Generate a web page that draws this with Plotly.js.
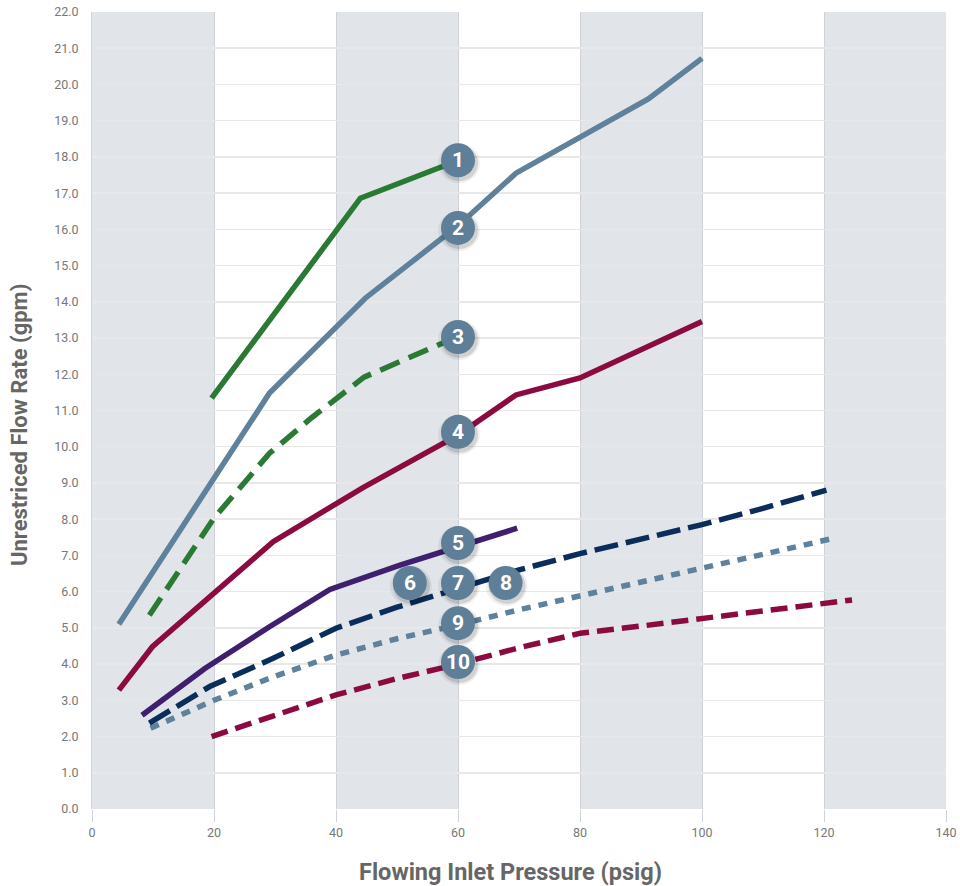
<!DOCTYPE html>
<html><head><meta charset="utf-8">
<script src="https://cdn.plot.ly/plotly-3.0.1.min.js"></script>
<style>html,body{margin:0;padding:0;background:#fff}#chart{width:960px;height:886px}</style>
</head><body><div id="chart"></div>
<script>
// Series data (x = psig, y = gpm)
const s1x = [19.6, 44.0, 60.0];
const s1y = [11.34, 16.86, 17.9];
const s2x = [4.4, 29.1, 44.8, 60.0, 69.5, 91.2, 100.0];
const s2y = [5.1, 11.48, 14.1, 16.1, 17.55, 19.6, 20.72];
const s3x = [9.4, 20.0, 29.1, 36.0, 44.6, 50.3, 58.0];
const s3y = [5.35, 8.03, 9.82, 10.8, 11.92, 12.35, 12.9];
const s4x = [4.4, 9.9, 29.7, 44.5, 60.0, 69.5, 80.0, 91.5, 100.0];
const s4y = [3.28, 4.48, 7.38, 8.88, 10.32, 11.43, 11.9, 12.8, 13.46];
const s5x = [8.2, 18.5, 29.1, 39.0, 50.5, 69.7];
const s5y = [2.59, 3.88, 5.03, 6.06, 6.73, 7.75];
const s6x = [9.4, 19.3, 29.7, 40.0, 50.0, 60.0, 70.0, 80.0, 90.0, 100.0, 110.0, 120.4];
const s6y = [2.37, 3.38, 4.16, 4.99, 5.57, 6.08, 6.6, 7.05, 7.45, 7.85, 8.3, 8.8];
const s7x = [9.6, 20.0, 29.1, 40.0, 50.0, 60.0, 70.0, 80.0, 90.0, 100.0, 110.0, 121.5];
const s7y = [2.23, 3.0, 3.61, 4.25, 4.7, 5.08, 5.5, 5.88, 6.28, 6.66, 7.05, 7.47];
const s8x = [19.6, 29.7, 40.0, 50.0, 60.0, 70.0, 80.0, 90.0, 100.0, 110.0, 120.0, 124.6];
const s8y = [2.0, 2.55, 3.15, 3.6, 4.0, 4.45, 4.85, 5.05, 5.25, 5.45, 5.68, 5.77];

// Badges
const badgeLabels = ['1','2','3','4','5','6','7','8','9','10'];
const badgeX = [60, 60, 60, 60, 60, 52.1, 60, 67.8, 60, 60];
const badgeY = [17.91, 16.04, 13.03, 10.41, 7.34, 6.24, 6.24, 6.24, 5.13, 4.06];

// Axes
const xTicks = [0, 20, 40, 60, 80, 100, 120, 140];
const yTicks = [0,1,2,3,4,5,6,7,8,9,10,11,12,13,14,15,16,17,18,19,20,21,22];
const bandStarts = [0, 40, 80, 120];
const xTitle = 'Flowing Inlet Pressure (psig)';
const yTitle = 'Unrestriced Flow Rate (gpm)';

const GREEN = '#2a7a35', STEEL = '#5f819b', CRIMSON = '#8b0b40', PURPLE = '#3f1f6e', NAVY = '#0b2d5b';
const FONT = 'Roboto, DejaVu Sans, sans-serif';

function tr(x, y, color, dash) {
  return {x: x, y: y, type: 'scatter', mode: 'lines',
    line: {color: color, width: 5.5, dash: dash || 'solid', shape: 'linear'},
    hoverinfo: 'skip'};
}
const data = [
  tr(s8x, s8y, CRIMSON, '17px,8px'),
  tr(s7x, s7y, STEEL, '9px,8px'),
  tr(s6x, s6y, NAVY, '24px,8px'),
  tr(s5x, s5y, PURPLE),
  tr(s4x, s4y, CRIMSON),
  tr(s3x, s3y, GREEN, '21px,10px'),
  tr(s2x, s2y, STEEL),
  tr(s1x, s1y, GREEN)
];

const shapes = [];
bandStarts.forEach(b => shapes.push({type: 'rect', xref: 'x', yref: 'paper', x0: b, x1: b + 20, y0: 0, y1: 1,
  fillcolor: '#e1e4e9', line: {width: 0}, layer: 'below'}));
badgeX.forEach((bx, i) => {
  const by = badgeY[i];
  shapes.push({type: 'circle', xref: 'x', yref: 'y', xsizemode: 'pixel', ysizemode: 'pixel', xanchor: bx, yanchor: by,
    x0: -20, x1: 22, y0: -23, y1: 17, fillcolor: 'rgba(0,0,0,0.06)', line: {width: 0}, layer: 'above'});
  shapes.push({type: 'circle', xref: 'x', yref: 'y', xsizemode: 'pixel', ysizemode: 'pixel', xanchor: bx, yanchor: by,
    x0: -17, x1: 20, y0: -21, y1: 15, fillcolor: 'rgba(0,0,0,0.12)', line: {width: 0}, layer: 'above'});
});
badgeX.forEach((bx, i) => {
  shapes.push({type: 'circle', xref: 'x', yref: 'y', xsizemode: 'pixel', ysizemode: 'pixel', xanchor: bx, yanchor: badgeY[i],
    x0: -17, x1: 17, y0: -17, y1: 17, fillcolor: '#5f7f99', line: {width: 0}, layer: 'above'});
});
const annotations = badgeX.map((bx, i) => ({x: bx, y: badgeY[i], xref: 'x', yref: 'y', text: badgeLabels[i],
  showarrow: false, font: {family: FONT, size: 21, color: '#ffffff', weight: 'bold'}}));
annotations.push({xref: 'paper', yref: 'paper', x: (510 - 92) / 854, y: -(872 - 809) / 797, text: xTitle,
  showarrow: false, xanchor: 'center', yanchor: 'middle', font: {family: FONT, size: 23.5, color: '#666', weight: 'bold'}});
annotations.push({xref: 'paper', yref: 'paper', x: -(92 - 19) / 854, y: (809 - 425) / 797, text: yTitle, textangle: -90,
  showarrow: false, xanchor: 'center', yanchor: 'middle', font: {family: FONT, size: 22, color: '#666', weight: 'bold'}});

const layout = {
  width: 960, height: 886,
  margin: {l: 92, r: 14, t: 12, b: 77},
  paper_bgcolor: '#ffffff', plot_bgcolor: '#ffffff',
  showlegend: false, hovermode: false,
  font: {family: FONT, color: '#777'},
  xaxis: {range: [0, 140], tickvals: xTicks, ticktext: xTicks.map(String),
    showgrid: true, gridcolor: '#cfd2d7', gridwidth: 1, zeroline: false,
    showline: false, ticks: 'outside', ticklen: 12, tickcolor: '#cfd2d7', tickwidth: 1,
    tickfont: {size: 12.5, color: '#777'}},
  yaxis: {range: [0, 22], tickvals: yTicks, ticktext: yTicks.map(v => v.toFixed(1)),
    showgrid: true, gridcolor: '#e8e8e8', gridwidth: 1.5, zeroline: false,
    showline: true, linecolor: '#d0d3d8', linewidth: 1, mirror: false,
    ticks: 'outside', ticklen: 10, tickcolor: 'rgba(0,0,0,0)',
    tickfont: {size: 12.5, color: '#777'}},
  shapes: shapes,
  annotations: annotations
};
Plotly.newPlot('chart', data, layout, {displayModeBar: false, staticPlot: true});
</script></body></html>
